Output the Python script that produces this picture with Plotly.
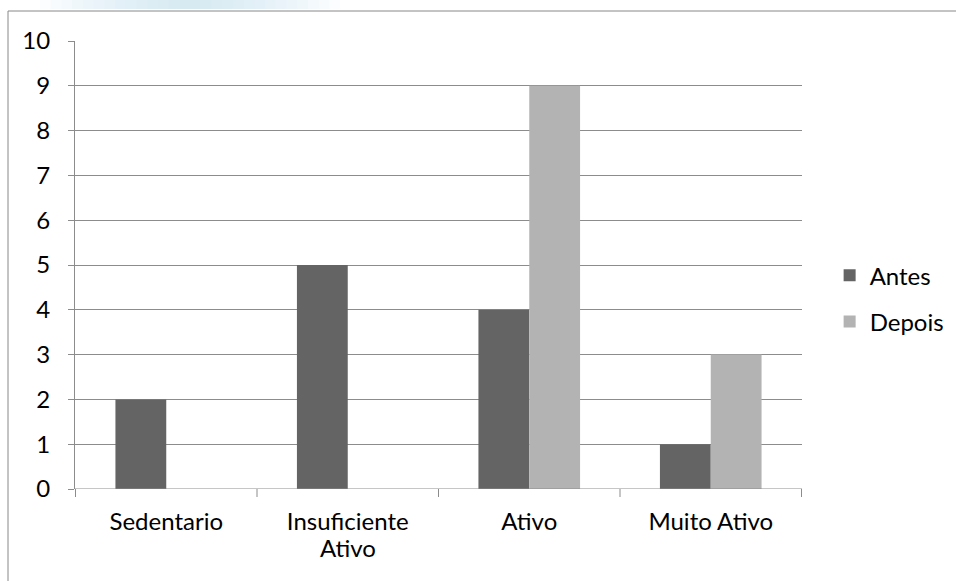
import plotly.graph_objects as go

categories = ["Sedentario", "Insuficiente Ativo", "Ativo", "Muito Ativo"]
tick_labels = ["Sedentario", "Insuficiente", "Ativo", "Muito Ativo"]
second_line = {"Insuficiente Ativo": "Ativo"}
antes = [2, 5, 4, 1]
depois = [0, 0, 9, 3]
y_ticks = list(range(0, 11))

FONT = "Lato"
FSIZE = 24
GRID = "#8c8c8c"

fig = go.Figure()
fig.add_trace(go.Bar(name="Antes", x=categories, y=antes, legendgroup="a",
                     marker=dict(color="#646464", line=dict(width=0))))
fig.add_trace(go.Bar(name="Depois", x=categories, y=depois, legendgroup="b",
                     marker=dict(color="#b3b3b3", line=dict(width=0))))

fig.update_layout(
    width=956, height=581,
    margin=dict(l=75, r=154, t=41, b=92, autoexpand=False),
    paper_bgcolor="white", plot_bgcolor="white",
    barmode="group", bargap=0.44, bargroupgap=0,
    font=dict(family=FONT, size=FSIZE, color="#000000"),
    showlegend=True,
    legend=dict(x=1.038, y=0.425, xanchor="left", yanchor="middle",
                font=dict(family=FONT, size=FSIZE), tracegroupgap=12,
                itemwidth=30, bgcolor="rgba(0,0,0,0)"),
    xaxis=dict(tickmode="array", tickvals=categories, ticktext=tick_labels,
               showgrid=False, showline=False, ticks="", zeroline=False,
               tickfont=dict(family=FONT, size=FSIZE), ticklabelstandoff=16),
    yaxis=dict(range=[0, 10], tickvals=y_ticks, showgrid=True, gridcolor=GRID,
               gridwidth=1, showline=True, linecolor=GRID, linewidth=1,
               ticks="outside", ticklen=6, tickcolor=GRID, zeroline=False,
               tickfont=dict(family=FONT, size=FSIZE), ticklabelstandoff=13),
)

# second line of wrapped category labels
for cat, text in second_line.items():
    fig.add_annotation(x=cat, xref="x", y=0, yref="paper", yanchor="top",
                       yshift=-42, text=text, showarrow=False,
                       font=dict(family=FONT, size=FSIZE))

# category boundary ticks below the axis
for i in range(len(categories) + 1):
    fig.add_shape(type="line", xref="x", yref="paper",
                  x0=i - 0.5, x1=i - 0.5, y0=-8, y1=0,
                  ysizemode="pixel", yanchor=0,
                  line=dict(color=GRID, width=1))
# baseline at zero
fig.add_shape(type="line", xref="paper", yref="y", x0=0, x1=1, y0=0, y1=0,
              line=dict(color=GRID, width=1))

# chart frame
fig.add_shape(type="rect", xref="paper", yref="paper",
              xsizemode="pixel", xanchor=0, x0=-67, x1=1200,
              ysizemode="pixel", yanchor=1, y0=-1000, y1=30,
              line=dict(color="#888888", width=1), fillcolor="rgba(0,0,0,0)",
              layer="below")

# soft blue haze along the top edge: stacked faint bands fading outwards
center, half = 115, 150
for k in range(14):
    w = half * (1 - k / 14)
    fig.add_shape(type="rect", xref="paper", yref="paper",
                  xsizemode="pixel", xanchor=0, x0=center - w, x1=center + w,
                  ysizemode="pixel", yanchor=1, y0=32, y1=41,
                  line=dict(width=0), fillcolor="#c9e3f6", opacity=0.07,
                  layer="below")

fig.write_html("out.html")
